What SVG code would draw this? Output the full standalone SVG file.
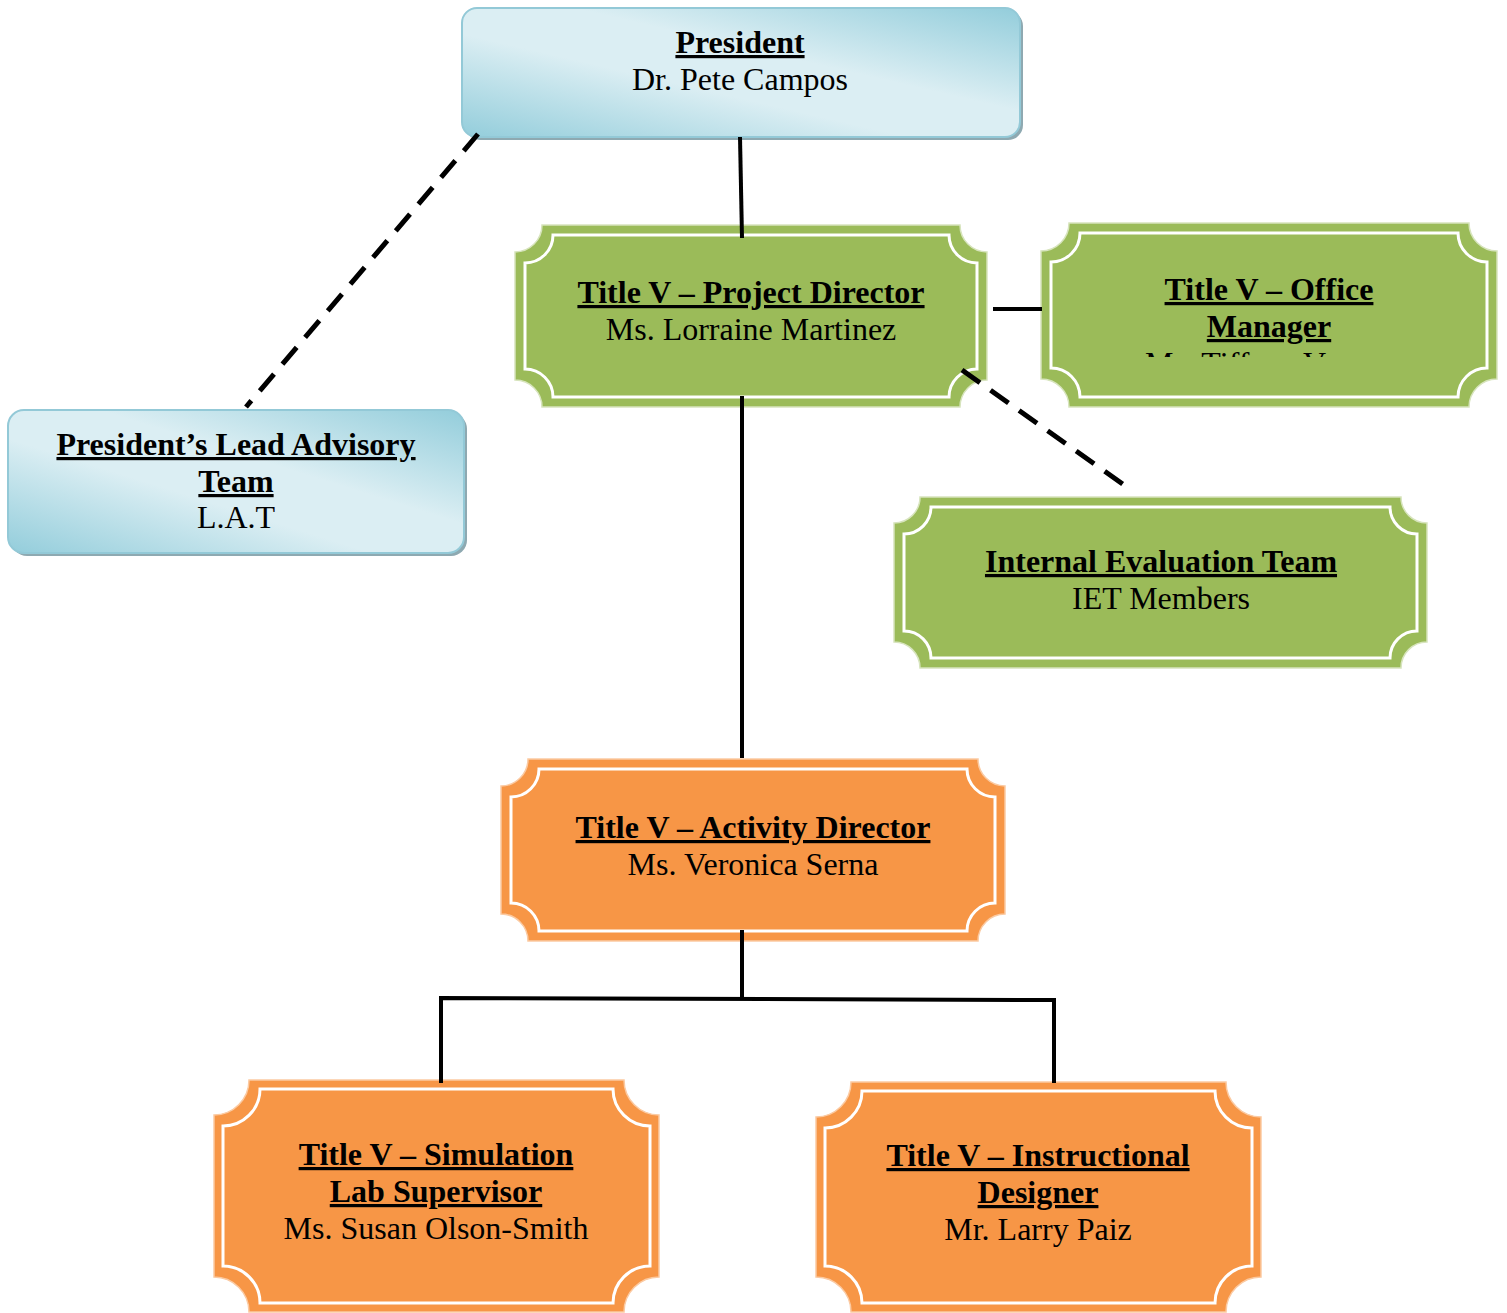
<svg xmlns="http://www.w3.org/2000/svg" width="1507" height="1313" viewBox="0 0 1507 1313">
<defs>
<linearGradient id="blueGrad" x1="0" y1="1" x2="1" y2="0">
<stop offset="0" stop-color="#93cddb"/>
<stop offset="0.4" stop-color="#dbeef3"/>
<stop offset="0.6" stop-color="#dbeef3"/>
<stop offset="1" stop-color="#93cddb"/>
</linearGradient>
<clipPath id="omClip"><rect x="1041" y="223" width="456" height="134"/></clipPath>
</defs>
<style>
.shadow{fill:#8ea9b1;}
.blue{fill:url(#blueGrad);stroke:#93c9d7;stroke-width:2;}
.green{fill:#9bbb59;stroke:#d7e4bd;stroke-width:1.5;}
.orange{fill:#f79646;stroke:#fbcaa2;stroke-width:1.5;}
.frame{fill:none;stroke:#ffffff;stroke-width:3;}
text{font-family:"Liberation Serif","Times New Roman",serif;font-size:32px;fill:#000;text-anchor:middle;}
.t{font-weight:bold;text-decoration:underline;text-decoration-thickness:3px;text-underline-offset:4px;}
.conn{stroke:#000;stroke-width:4;fill:none;}
.dash{stroke:#000;stroke-width:5;fill:none;stroke-dasharray:22 13;}
</style>

<g id="president">
<rect class="shadow" x="465" y="11" width="558" height="129" rx="15"/>
<rect class="blue" x="462" y="8" width="558" height="129" rx="15"/>
<text class="t" x="740" y="53">President</text>
<text x="740" y="90">Dr. Pete Campos</text>
</g>

<g id="lat">
<rect class="shadow" x="11" y="413" width="456" height="143" rx="16"/>
<rect class="blue" x="8" y="410" width="456" height="143" rx="16"/>
<text class="t" x="236" y="455">President’s Lead Advisory</text>
<text class="t" x="236" y="492">Team</text>
<text x="236" y="528">L.A.T</text>
</g>

<g id="project-director">
<path class="green" d="M542,225 H960 A27,27 0 0 0 987,252 V380 A27,27 0 0 0 960,407 H542 A27,27 0 0 0 515,380 V252 A27,27 0 0 0 542,225 Z"/>
<path class="frame" d="M553,235 H949 A28,28 0 0 0 977,263 V369 A28,28 0 0 0 949,397 H553 A28,28 0 0 0 525,369 V263 A28,28 0 0 0 553,235 Z"/>
<text class="t" x="751" y="303">Title V – Project Director</text>
<text x="751" y="340">Ms. Lorraine Martinez</text>
</g>

<g id="office-manager">
<path class="green" d="M1069,223 H1469 A28,28 0 0 0 1497,251 V379 A28,28 0 0 0 1469,407 H1069 A28,28 0 0 0 1041,379 V251 A28,28 0 0 0 1069,223 Z"/>
<path class="frame" d="M1080,233 H1458 A29,29 0 0 0 1487,262 V368 A29,29 0 0 0 1458,397 H1080 A29,29 0 0 0 1051,368 V262 A29,29 0 0 0 1080,233 Z"/>
<text class="t" x="1269" y="300">Title V – Office</text>
<text class="t" x="1269" y="337">Manager</text>
<text x="1145" y="374" clip-path="url(#omClip)" style="text-anchor:start">Ms. Tiffany V</text>
</g>

<g id="iet">
<path class="green" d="M920,497 H1401 A26,26 0 0 0 1427,523 V642 A26,26 0 0 0 1401,668 H920 A26,26 0 0 0 894,642 V523 A26,26 0 0 0 920,497 Z"/>
<path class="frame" d="M931,507 H1390 A27,27 0 0 0 1417,534 V631 A27,27 0 0 0 1390,658 H931 A27,27 0 0 0 904,631 V534 A27,27 0 0 0 931,507 Z"/>
<text class="t" x="1161" y="572">Internal Evaluation Team</text>
<text x="1161" y="609">IET Members</text>
</g>

<g id="activity-director">
<path class="orange" d="M528,759 H978 A27,27 0 0 0 1005,786 V914 A27,27 0 0 0 978,941 H528 A27,27 0 0 0 501,914 V786 A27,27 0 0 0 528,759 Z"/>
<path class="frame" d="M539,769 H967 A28,28 0 0 0 995,797 V903 A28,28 0 0 0 967,931 H539 A28,28 0 0 0 511,903 V797 A28,28 0 0 0 539,769 Z"/>
<text class="t" x="753" y="838">Title V – Activity Director</text>
<text x="753" y="875">Ms. Veronica Serna</text>
</g>

<g id="simulation-lab">
<path class="orange" d="M249,1080 H624 A35,35 0 0 0 659,1115 V1277 A35,35 0 0 0 624,1312 H249 A35,35 0 0 0 214,1277 V1115 A35,35 0 0 0 249,1080 Z"/>
<path class="frame" d="M260,1089 H613 A37,37 0 0 0 650,1126 V1266 A37,37 0 0 0 613,1303 H260 A37,37 0 0 0 223,1266 V1126 A37,37 0 0 0 260,1089 Z"/>
<text class="t" x="436" y="1165">Title V – Simulation</text>
<text class="t" x="436" y="1202">Lab Supervisor</text>
<text x="436" y="1239">Ms. Susan Olson-Smith</text>
</g>

<g id="instructional-designer">
<path class="orange" d="M851,1082 H1226 A35,35 0 0 0 1261,1117 V1277 A35,35 0 0 0 1226,1312 H851 A35,35 0 0 0 816,1277 V1117 A35,35 0 0 0 851,1082 Z"/>
<path class="frame" d="M862,1091 H1215 A37,37 0 0 0 1252,1128 V1266 A37,37 0 0 0 1215,1303 H862 A37,37 0 0 0 825,1266 V1128 A37,37 0 0 0 862,1091 Z"/>
<text class="t" x="1038" y="1166">Title V – Instructional</text>
<text class="t" x="1038" y="1203">Designer</text>
<text x="1038" y="1240">Mr. Larry Paiz</text>
</g>

<g id="connectors">
<line class="conn" x1="740" y1="137" x2="742" y2="238"/>
<line class="dash" x1="478" y1="134" x2="246" y2="407"/>
<line class="conn" x1="993" y1="309" x2="1042" y2="309"/>
<line class="dash" x1="962" y1="370" x2="1131" y2="490" stroke-dasharray="22 12"/>
<line class="conn" x1="742" y1="396" x2="742" y2="758"/>
<line class="conn" x1="742" y1="930" x2="742" y2="999"/>
<polyline class="conn" points="441,1083 441,998 1054,1000 1054,1083"/>
</g>
</svg>
